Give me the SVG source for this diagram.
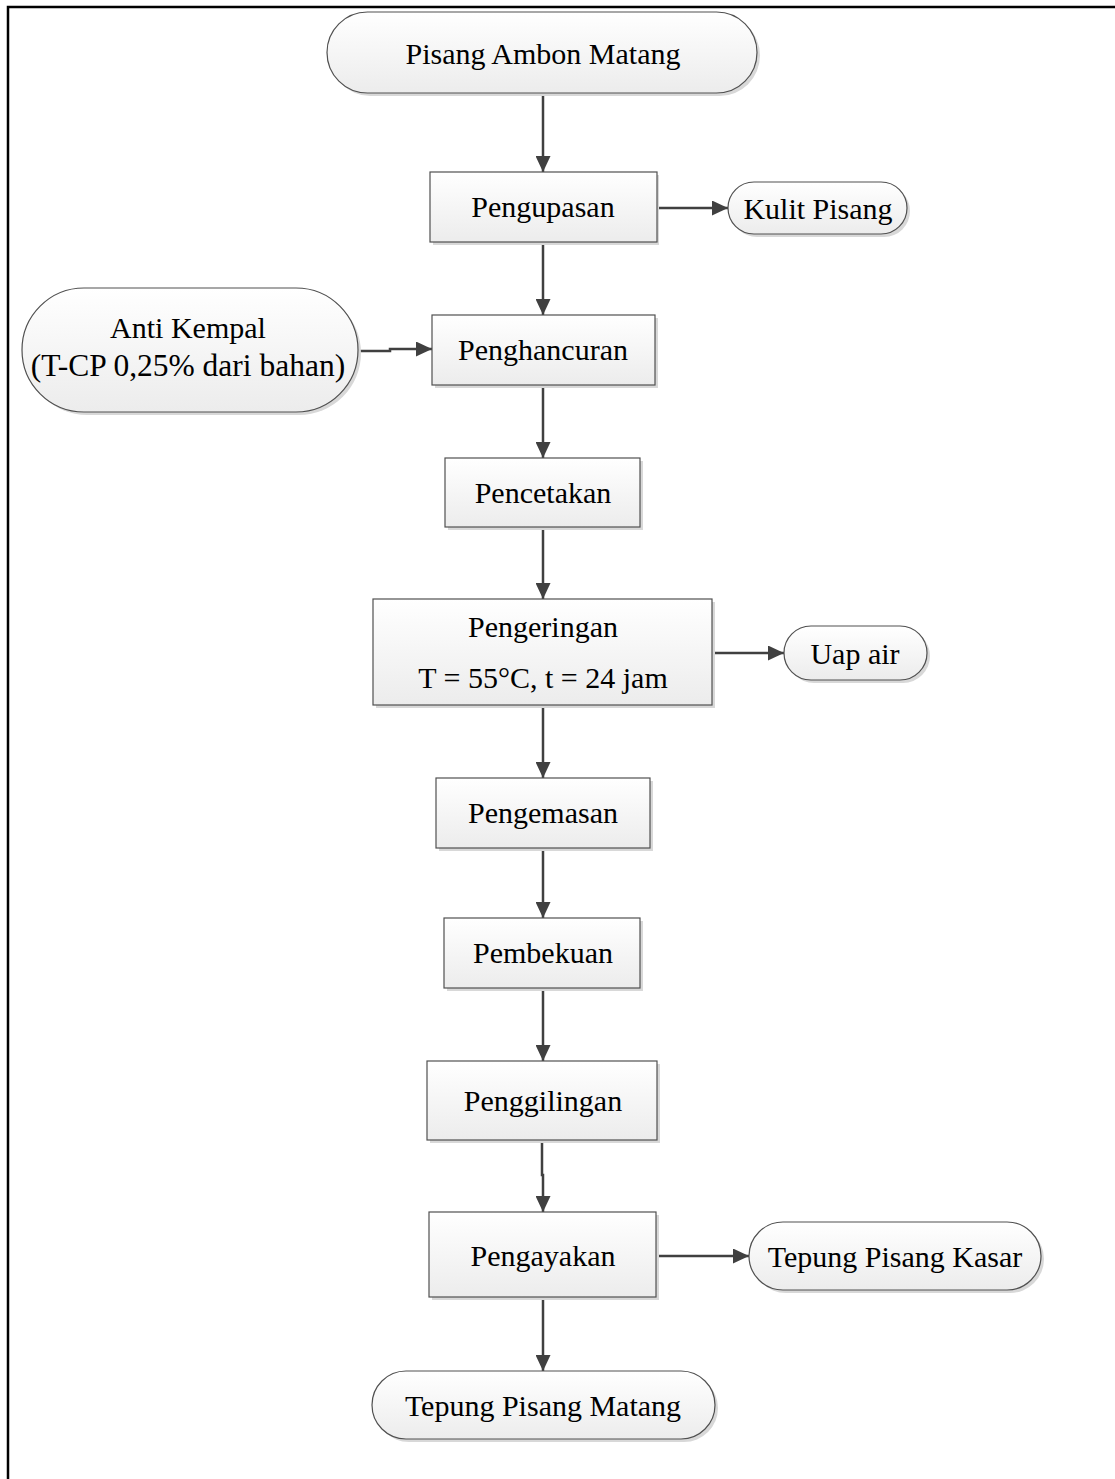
<svg xmlns="http://www.w3.org/2000/svg" width="1115" height="1479" viewBox="0 0 1115 1479">
<defs>
<linearGradient id="g" x1="0" y1="0" x2="0" y2="1">
<stop offset="0" stop-color="#ffffff"/>
<stop offset="1" stop-color="#ececec"/>
</linearGradient>
<marker id="ah" markerUnits="userSpaceOnUse" markerWidth="17" markerHeight="15" refX="16" refY="7.5" orient="auto">
<path d="M0,0 L16,7.5 L0,15 z" fill="#404040"/>
</marker>
<style>
.box{fill:url(#g);stroke:#505050;stroke-width:1.2}
.sh{fill:#d8d8d8;stroke:none}
.t{font-family:"Liberation Serif","Times New Roman",serif;font-size:30px;fill:#000;text-anchor:middle}
.c{fill:none;stroke:#404040;stroke-width:2.5;marker-end:url(#ah)}
</style>
</defs>
<rect x="8" y="7" width="1130" height="1500" fill="none" stroke="#000" stroke-width="2.5"/>

<g id="connectors">
<path class="c" d="M543,93 V172"/>
<path class="c" d="M543,242 V315"/>
<path class="c" d="M543,385 V458"/>
<path class="c" d="M543,527 V599"/>
<path class="c" d="M543,705 V778"/>
<path class="c" d="M543,848 V918"/>
<path class="c" d="M543,988 V1061"/>
<path class="c" d="M542,1140 V1175 H543 V1212"/>
<path class="c" d="M543,1297 V1371"/>
<path class="c" d="M657,208 H728"/>
<path class="c" d="M358,351 H390 V349 H432"/>
<path class="c" d="M712,653 H784"/>
<path class="c" d="M656,1256 H749"/>
</g>

<g id="n-start">
<rect class="sh" x="330" y="15" width="430" height="81" rx="40.5"/>
<rect class="box" x="327" y="12" width="430" height="81" rx="40.5"/>
<text class="t" x="543" y="64">Pisang Ambon Matang</text>
</g>
<g id="n-pengupasan">
<rect class="sh" x="433" y="175" width="226" height="70"/>
<rect class="box" x="430" y="172" width="227" height="70"/>
<text class="t" x="543" y="217">Pengupasan</text>
</g>
<g id="n-kulit">
<rect class="sh" x="731" y="185" width="179" height="52" rx="26"/>
<rect class="box" x="728" y="182" width="179" height="52" rx="26"/>
<text class="t" x="818" y="219">Kulit Pisang</text>
</g>
<g id="n-antikempal">
<rect class="sh" x="25" y="291" width="336" height="124" rx="62"/>
<rect class="box" x="22" y="288" width="336" height="124" rx="62"/>
<text class="t" x="188" y="338">Anti Kempal</text>
<text class="t" x="188" y="376" style="font-size:31.5px">(T-CP 0,25% dari bahan)</text>
</g>
<g id="n-penghancuran">
<rect class="sh" x="435" y="318" width="223" height="70"/>
<rect class="box" x="432" y="315" width="223" height="70"/>
<text class="t" x="543" y="360">Penghancuran</text>
</g>
<g id="n-pencetakan">
<rect class="sh" x="448" y="461" width="195" height="69"/>
<rect class="box" x="445" y="458" width="195" height="69"/>
<text class="t" x="543" y="503">Pencetakan</text>
</g>
<g id="n-pengeringan">
<rect class="sh" x="376" y="602" width="339" height="106"/>
<rect class="box" x="373" y="599" width="339" height="106"/>
<text class="t" x="543" y="637">Pengeringan</text>
<text class="t" x="543" y="688">T = 55°C, t = 24 jam</text>
</g>
<g id="n-uapair">
<rect class="sh" x="787" y="629" width="143" height="54" rx="27"/>
<rect class="box" x="784" y="626" width="143" height="54" rx="27"/>
<text class="t" x="855" y="664">Uap air</text>
</g>
<g id="n-pengemasan">
<rect class="sh" x="439" y="781" width="214" height="70"/>
<rect class="box" x="436" y="778" width="214" height="70"/>
<text class="t" x="543" y="823">Pengemasan</text>
</g>
<g id="n-pembekuan">
<rect class="sh" x="447" y="921" width="196" height="70"/>
<rect class="box" x="444" y="918" width="196" height="70"/>
<text class="t" x="543" y="963">Pembekuan</text>
</g>
<g id="n-penggilingan">
<rect class="sh" x="430" y="1064" width="230" height="79"/>
<rect class="box" x="427" y="1061" width="230" height="79"/>
<text class="t" x="543" y="1111">Penggilingan</text>
</g>
<g id="n-pengayakan">
<rect class="sh" x="432" y="1215" width="227" height="85"/>
<rect class="box" x="429" y="1212" width="227" height="85"/>
<text class="t" x="543" y="1266">Pengayakan</text>
</g>
<g id="n-kasar">
<rect class="sh" x="752" y="1225" width="292" height="68" rx="34"/>
<rect class="box" x="749" y="1222" width="292" height="68" rx="34"/>
<text class="t" x="895" y="1267">Tepung Pisang Kasar</text>
</g>
<g id="n-end">
<rect class="sh" x="375" y="1374" width="343" height="68" rx="34"/>
<rect class="box" x="372" y="1371" width="343" height="68" rx="34"/>
<text class="t" x="543" y="1416">Tepung Pisang Matang</text>
</g>
</svg>
